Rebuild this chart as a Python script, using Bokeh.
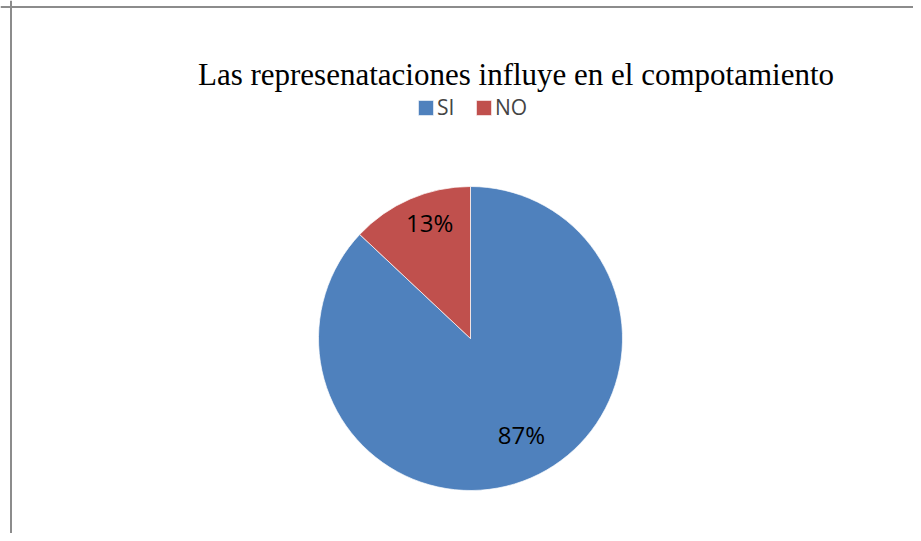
import math
from bokeh.plotting import figure
from bokeh.models import Range1d, Span, Legend, LegendItem, ColumnDataSource
from bokeh.core.properties import value
from bokeh.embed import file_html
from bokeh.resources import INLINE

title_text = "Las represenataciones influye en el compotamiento"
categories = ["SI", "NO"]
values = [87, 13]
labels = ["87%", "13%"]
colors = ["#4F81BD", "#C0504D"]

W, H = 913, 533
p = figure(width=W, height=H, output_backend="svg", toolbar_location=None,
           x_range=Range1d(0, W), y_range=Range1d(0, H),
           min_border=0, min_border_left=0, min_border_right=0,
           min_border_top=0, min_border_bottom=0)
p.axis.visible = False
p.grid.visible = False
p.outline_line_color = None
p.background_fill_color = "white"

def Y(yw):
    return H - yw

# border of the chart area (left and top edges visible)
p.add_layout(Span(location=10.5, dimension="height", line_color="#8c8c8c", line_width=2))
p.add_layout(Span(location=Y(6.5), dimension="width", line_color="#8c8c8c", line_width=2))

cx, cy, r = 470, Y(338), 152
total = sum(values)
starts, ends, lx, ly = [], [], [], []
cum = 0.0
for v in values:
    a0 = math.pi / 2 - 2 * math.pi * cum / total
    a1 = math.pi / 2 - 2 * math.pi * (cum + v) / total
    starts.append(a1)
    ends.append(a0)
    mid = (a0 + a1) / 2
    lx.append(cx + 0.76 * r * math.cos(mid))
    ly.append(cy + 0.76 * r * math.sin(mid))
    cum += v

src = ColumnDataSource(dict(lx=lx, ly=ly, lab=labels))
renderers = []
for i in range(len(categories)):
    s = ColumnDataSource(dict(start=[starts[i]], end=[ends[i]]))
    rr = p.wedge(x=cx, y=cy, radius=r, start_angle="start", end_angle="end",
                 fill_color=colors[i], line_color="white", line_width=0.7, source=s)
    renderers.append(rr)

p.text(x="lx", y="ly", text="lab", source=src, text_font=value("Open Sans"),
       text_font_size="24px", text_align="center", text_baseline="middle",
       text_color="black", x_offset=5, y_offset=-10)

p.text(x=[515.5], y=[Y(74)], text=[title_text], text_font=value("Liberation Serif"),
       text_font_size="31px", text_align="center", text_baseline="alphabetic",
       text_color="black")

legend = Legend(items=[LegendItem(label=categories[i], renderers=[renderers[i]]) for i in range(len(categories))],
                orientation="horizontal", location=(416, Y(121)),
                border_line_alpha=0, background_fill_alpha=0,
                glyph_width=19, glyph_height=19, label_standoff=2, spacing=17,
                padding=0, margin=0, label_text_font="Open Sans",
                label_text_font_size="21px", label_height=22)
p.add_layout(legend)

open("out.html", "w").write(file_html(p, INLINE))
